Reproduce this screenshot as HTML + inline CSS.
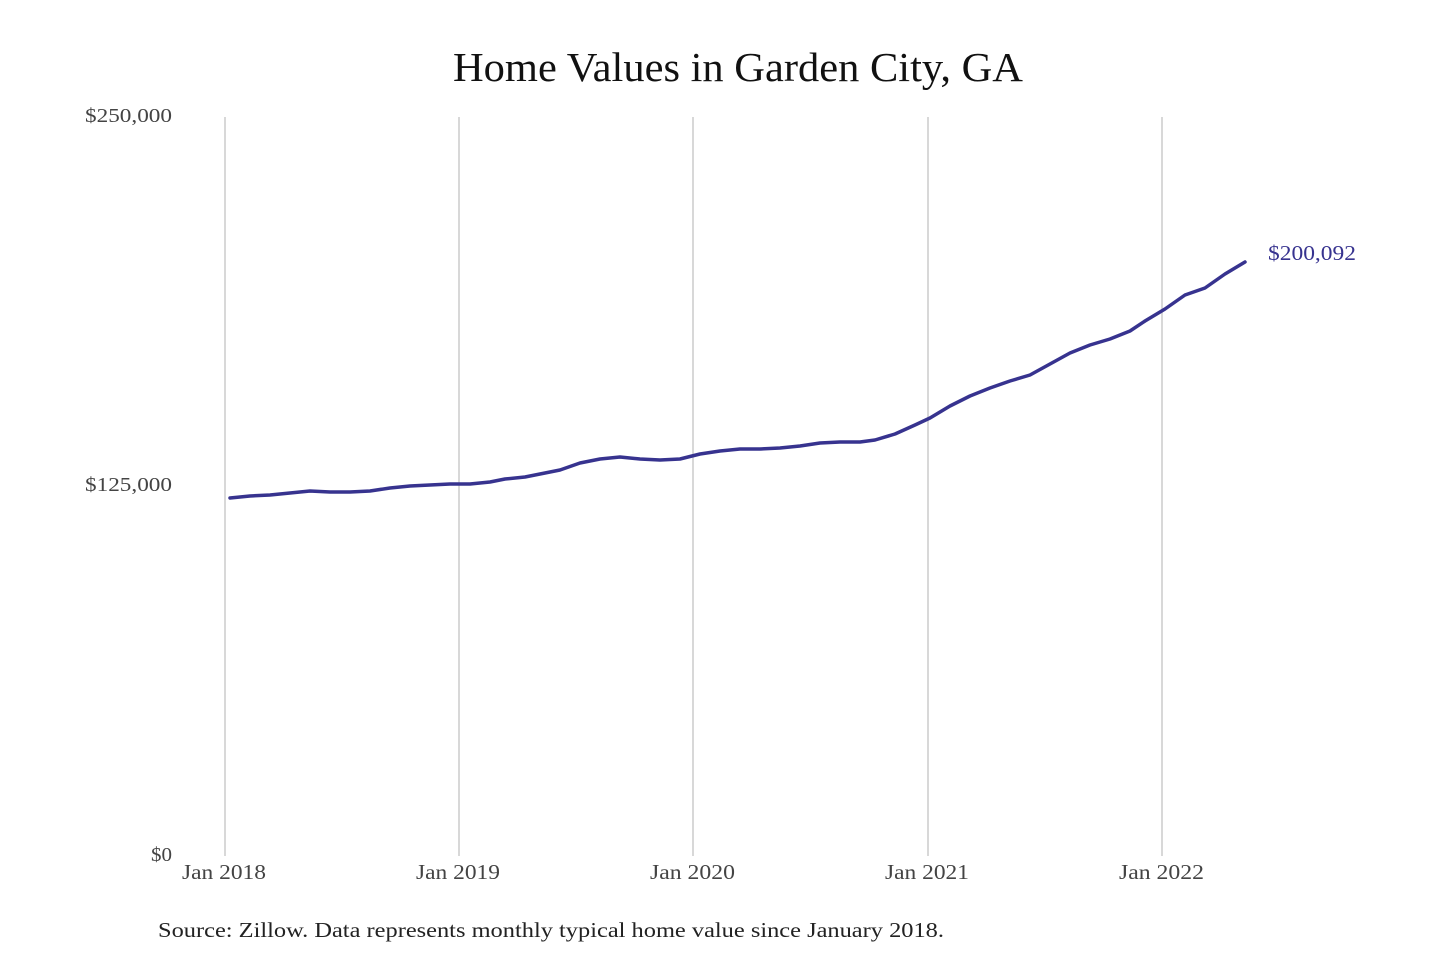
<!DOCTYPE html>
<html><head><meta charset="utf-8"><style>
html,body{margin:0;padding:0;background:#fff;width:1440px;height:960px;overflow:hidden}
</style></head><body>
<svg width="1440" height="960" xmlns="http://www.w3.org/2000/svg" font-family="Liberation Serif, serif">
<text x="453" y="81" font-size="41" textLength="570" lengthAdjust="spacingAndGlyphs" fill="#111">Home Values in Garden City, GA</text>
<g stroke="#c4c4c4" stroke-width="1.3">
<line x1="225" y1="117" x2="225" y2="856"/>
<line x1="459" y1="117" x2="459" y2="856"/>
<line x1="693" y1="117" x2="693" y2="856"/>
<line x1="928" y1="117" x2="928" y2="856"/>
<line x1="1162" y1="117" x2="1162" y2="856"/>
</g>
<g font-size="20" fill="#444" lengthAdjust="spacingAndGlyphs">
<text x="85" y="122" textLength="87" lengthAdjust="spacingAndGlyphs">$250,000</text>
<text x="85" y="491" textLength="87" lengthAdjust="spacingAndGlyphs">$125,000</text>
<text x="151" y="861" textLength="21" lengthAdjust="spacingAndGlyphs">$0</text>
</g>
<g font-size="21" fill="#444">
<text x="182" y="879" textLength="84" lengthAdjust="spacingAndGlyphs">Jan 2018</text>
<text x="416" y="879" textLength="84" lengthAdjust="spacingAndGlyphs">Jan 2019</text>
<text x="650" y="879" textLength="85" lengthAdjust="spacingAndGlyphs">Jan 2020</text>
<text x="885" y="879" textLength="84" lengthAdjust="spacingAndGlyphs">Jan 2021</text>
<text x="1119" y="879" textLength="85" lengthAdjust="spacingAndGlyphs">Jan 2022</text>
</g>
<polyline fill="none" stroke="#37338f" stroke-width="3.5" stroke-linejoin="round" stroke-linecap="round" points="230,498 250,496 270,495 290,493 310,491 330,492 350,492 370,491 390,488 410,486 430,485 450,484 470,484 490,482 505,479 525,477 545,473 560,470 580,463 600,459 620,457 640,459 660,460 680,459 700,454 720,451 740,449 760,449 780,448 800,446 820,443 840,442 860,442 875,440 895,434 915,425 930,418 950,406 970,396 990,388 1010,381 1030,375 1050,364 1070,353 1090,345 1110,339 1130,331 1145,321 1165,309 1185,295 1205,288 1225,274 1245,262"/>
<text x="1268" y="260" font-size="21" fill="#37338f" textLength="88" lengthAdjust="spacingAndGlyphs">$200,092</text>
<text x="158" y="937" font-size="21" fill="#222" textLength="786" lengthAdjust="spacingAndGlyphs">Source: Zillow. Data represents monthly typical home value since January 2018.</text>
</svg>
</body></html>
